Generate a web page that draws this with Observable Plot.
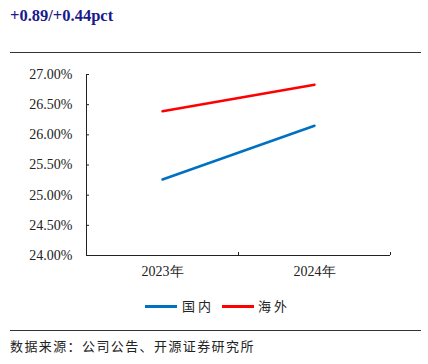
<!DOCTYPE html>
<html><head><meta charset="utf-8">
<script src="https://cdn.jsdelivr.net/npm/d3@7"></script>
<script src="https://cdn.jsdelivr.net/npm/@observablehq/plot@0.6"></script>
<style>
body{margin:0;width:428px;height:364px;position:relative;background:#fff;overflow:hidden}
#title{position:absolute;left:10px;top:6px;font:bold 16.5px "Liberation Serif",serif;color:#1a1a8a}
.hr{position:absolute;left:10px;width:411px;height:0;border-top:1.5px solid #333}
#chart{position:absolute;left:0;top:60px}
#legend{position:absolute;top:296px;left:0;width:428px;font:13px "Noto Sans CJK SC",sans-serif;color:#222}
.sw{position:absolute;top:9px;width:32px;height:3px}
.lt{position:absolute;top:0;letter-spacing:3px}
#caption{position:absolute;left:10px;top:336px;font:13px "Noto Sans CJK SC",sans-serif;color:#222;letter-spacing:1.4px}
</style></head><body>
<div id="title"></div>
<div class="hr" style="top:52px"></div>
<div id="chart"></div>
<div id="legend"></div>
<div class="hr" style="top:330px"></div>
<div id="caption"></div>
<script>
const titleText = "+0.89/+0.44pct";
const captionText = "数据来源：公司公告、开源证券研究所";
const years = ["2023年", "2024年"];
const seriesNames = ["国内", "海外"];
const domestic = [25.26, 26.15];
const overseas = [26.39, 26.83];
const colors = ["#0070c0", "#ff0000"];
const yTicks = [24, 24.5, 25, 25.5, 26, 26.5, 27];

document.getElementById("title").textContent = titleText;
document.getElementById("caption").textContent = captionText;

const data = [];
years.forEach((y, i) => {
  data.push({series: seriesNames[0], i: i + 0.5, year: y, v: domestic[i]});
  data.push({series: seriesNames[1], i: i + 0.5, year: y, v: overseas[i]});
});

const chart = Plot.plot({
  width: 428, height: 225,
  marginLeft: 86, marginRight: 38, marginTop: 14, marginBottom: 30,
  style: {fontFamily: "'Liberation Serif', serif", fontSize: "14px", color: "#222"},
  x: {domain: [0, years.length], axis: null},
  y: {domain: [24, 27], axis: null},
  color: {domain: seriesNames, range: colors},
  marks: [
    Plot.axisY(yTicks, {label: null, tickSize: -3, tickPadding: 17, stroke: "#222", tickFormat: d => d.toFixed(2) + "%", fontSize: 14}),
    Plot.axisX(years.map((d, i) => i + 0.5), {label: null, tickSize: 0, tickPadding: 11, tickFormat: d => years[Math.floor(d)], fontSize: 14}),
    Plot.axisX(d3.range(years.length + 1), {label: null, tickSize: -3, stroke: "#222", tickFormat: () => ""}),
    Plot.ruleX([0], {stroke: "#222"}),
    Plot.ruleY([24], {stroke: "#222"}),
    Plot.line(data, {x: "i", y: "v", z: "series", stroke: "series", strokeWidth: 2.5})
  ]
});
document.getElementById("chart").appendChild(chart);

const lg = document.getElementById("legend");
const pos = [[145, 182], [222, 258]];
seriesNames.forEach((n, k) => {
  const s = document.createElement("div"); s.className = "sw";
  s.style.left = pos[k][0] + "px"; s.style.background = colors[k]; lg.appendChild(s);
  const t = document.createElement("div"); t.className = "lt";
  t.style.left = pos[k][1] + "px"; t.textContent = n; lg.appendChild(t);
});
</script>
</body></html>
